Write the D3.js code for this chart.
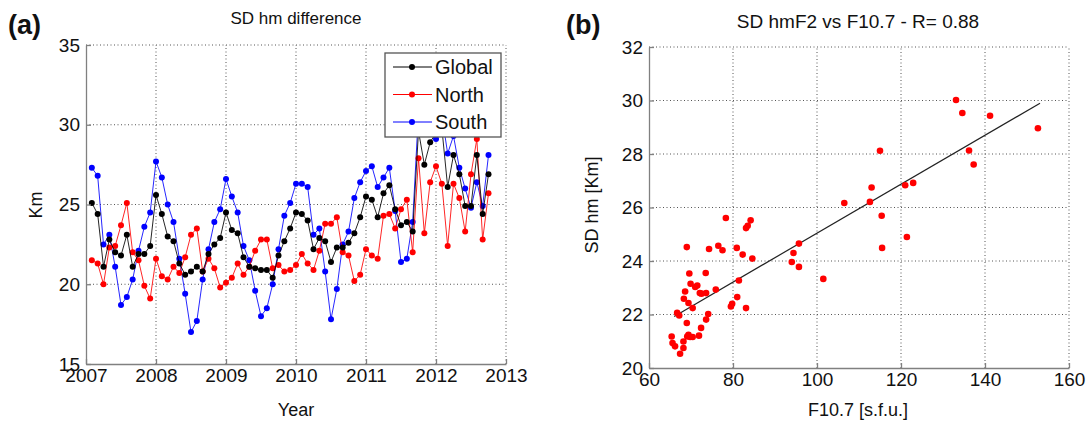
<!DOCTYPE html>
<html>
<head>
<meta charset="utf-8">
<script src="https://cdn.jsdelivr.net/npm/d3@7"></script>
<style>
  body { margin:0; background:#fff; }
  svg text { font-family: "Liberation Sans", Arial, sans-serif; fill:#111; }
  .tick text { font-size:19px; }
  .axis path, .axis line { stroke:#808080; stroke-width:1.3; }
  .grid line { stroke:#555; stroke-width:1; stroke-dasharray:1,2.5; }
</style>
</head>
<body>
<svg id="fig" width="1091" height="425"></svg>
<script>
// monthly values, Jan 2007 .. Sep 2012 (month index 1..69)
var months = d3.range(1, 70);
var globalSD = [25.1,24.4,21.1,22.8,22.0,21.8,23.1,21.1,21.9,21.9,22.4,25.6,
  24.4,23.0,22.7,21.3,20.6,20.8,21.1,20.8,21.9,22.5,22.9,24.5,
  23.4,23.2,21.7,21.1,21.0,20.9,20.9,20.4,21.8,22.7,23.5,24.5,
  24.4,24.0,22.2,22.9,22.7,21.4,22.3,22.3,22.6,23.2,24.2,25.5,
  25.3,24.2,25.7,26.2,24.7,23.7,23.9,23.3,29.6,27.5,28.9,29.5,
  29.8,26.1,28.1,26.9,24.9,24.9,28.1,24.4,26.9];
var northSD = [21.5,21.3,20.0,22.3,22.4,23.7,25.1,22.0,21.5,19.9,19.1,21.6,
  20.5,20.3,21.1,20.7,21.7,23.1,23.5,20.8,21.6,21.0,19.8,20.1,
  20.4,21.3,20.6,21.1,22.1,22.8,22.8,21.0,21.2,20.8,20.9,21.2,
  21.9,21.3,20.9,22.1,23.8,23.8,24.2,22.0,21.8,20.2,20.6,22.2,
  21.8,21.6,24.3,24.4,23.5,24.7,25.3,22.0,27.9,23.2,26.4,27.4,
  26.3,22.4,26.3,25.4,23.3,26.9,29.1,22.8,25.7];
var southSD = [27.3,26.8,22.5,23.1,21.1,18.7,19.2,20.3,22.1,23.6,24.5,27.7,
  26.7,25.0,23.9,21.6,19.4,17.0,17.7,20.3,22.2,23.9,24.7,26.6,
  25.5,24.5,22.4,21.5,19.6,18.0,18.5,20.0,22.2,24.3,25.1,26.3,
  26.3,26.1,23.1,23.5,20.8,17.8,19.7,22.5,23.3,25.4,26.4,27.1,
  27.4,26.1,26.7,27.3,24.6,21.4,21.6,23.9,30.8,31.5,30.2,29.1,
  30.6,28.2,29.3,27.3,26.0,24.8,26.4,24.9,28.1];
var seriesNames = ["Global","North","South"];
var seriesColors = ["#000000","#ff0000","#0000ff"];
var yearTicks = [2007,2008,2009,2010,2011,2012,2013];
var kmTicks = [15,20,25,30,35];

// scatter: F10.7 against SD hmF2
var f107 = [65.4,65.6,66.2,66.7,67.2,67.4,68.2,68.2,68.3,68.6,69.0,69.0,69.1,69.4,69.4,
  69.6,69.8,69.9,70.4,70.4,71.0,71.5,71.9,72.1,72.4,72.5,73.5,73.6,73.6,74.1,74.3,
  75.9,76.5,77.5,78.3,79.5,79.8,80.9,81.0,81.4,82.3,83.1,83.1,83.5,84.2,84.6,
  94.0,94.4,95.7,95.7,101.5,106.5,112.6,113.0,115.0,115.4,115.5,121.0,121.4,122.9,
  133.1,134.6,136.2,137.3,141.2,152.6];
var sdhm = [21.18,20.93,20.81,22.06,21.96,20.53,20.99,20.75,22.59,22.86,24.52,21.68,21.18,22.43,21.24,
  23.53,21.16,23.15,22.24,21.16,23.03,23.08,21.21,22.80,21.50,22.78,23.55,21.81,22.80,22.02,24.45,
  22.93,24.57,24.40,25.61,22.30,22.40,24.49,22.65,23.27,24.24,22.24,25.23,25.32,25.52,24.09,
  23.96,24.30,24.65,23.78,23.33,26.17,26.21,26.75,28.12,25.69,24.49,26.83,24.90,26.92,
  30.02,29.53,28.13,27.61,29.43,28.96];
var fitSlope = 0.0915, fitIntercept = 15.89;
var fluxTicks = [60,80,100,120,140,160];
var hmTicks = [20,22,24,26,28,30,32];

var svg = d3.select("#fig");

// draws dotted grid + gray inward-tick axes for one panel
function frame(g, x, y, xt, yt){
  var x0 = x.range()[0], x1 = x.range()[1], y0 = y.range()[0], y1 = y.range()[1];
  var grid = g.append("g").attr("class","grid");
  grid.selectAll(".v").data(xt.slice(1)).enter().append("line")
    .attr("x1",x).attr("x2",x).attr("y1",y0).attr("y2",y1);
  grid.selectAll(".h").data(yt.slice(1)).enter().append("line")
    .attr("x1",x0).attr("x2",x1).attr("y1",y).attr("y2",y);
}
function axes(g, x, y, xt, yt){
  g.append("g").attr("class","axis").attr("transform","translate(0,"+y.range()[0]+")")
    .call(d3.axisBottom(x).tickValues(xt).tickFormat(d3.format("d")).tickSize(-5).tickPadding(5).tickSizeOuter(0));
  g.append("g").attr("class","axis").attr("transform","translate("+x.range()[0]+",0)")
    .call(d3.axisLeft(y).tickValues(yt).tickFormat(d3.format("d")).tickSize(-5).tickPadding(6).tickSizeOuter(0));
}

// ---- panel (a)
var xa = d3.scaleLinear().domain([2007,2013]).range([86,506]);
var ya = d3.scaleLinear().domain([15,35]).range([364,45]);
var ga = svg.append("g");
frame(ga, xa, ya, yearTicks, kmTicks);

var t = function(m){ return 2007 + m/12; };
var line = d3.line().x(function(d){ return xa(t(d[0])); }).y(function(d){ return ya(d[1]); });
var all = [globalSD, northSD, southSD];
// draw south first so global stays on top like the original
[2,1,0].forEach(function(i){
  var pts = months.map(function(m,j){ return [m, all[i][j]]; });
  ga.append("path").attr("d",line(pts)).attr("fill","none")
    .attr("stroke",seriesColors[i]).attr("stroke-width",1).attr("opacity",0.85);
  ga.selectAll(".d"+i).data(pts).enter().append("circle")
    .attr("cx",function(d){ return xa(t(d[0])); })
    .attr("cy",function(d){ return ya(d[1]); })
    .attr("r",3).attr("fill",seriesColors[i]);
});
axes(ga, xa, ya, yearTicks, kmTicks);

// legend
var lg = ga.append("g");
lg.append("rect").attr("x",385).attr("y",53).attr("width",116).attr("height",84)
  .attr("fill","#fff").attr("stroke","#555").attr("stroke-width",1.3);
seriesNames.forEach(function(n,i){
  var yy = 67 + i*27.5;
  lg.append("line").attr("x1",393).attr("x2",432).attr("y1",yy).attr("y2",yy)
    .attr("stroke",seriesColors[i]).attr("stroke-width",1);
  lg.append("circle").attr("cx",412).attr("cy",yy).attr("r",3).attr("fill",seriesColors[i]);
  lg.append("text").attr("x",435).attr("y",yy+7).attr("font-size","20px").text(n);
});

ga.append("text").attr("x",296).attr("y",24).attr("text-anchor","middle").attr("font-size","17px").text("SD hm difference");
ga.append("text").attr("x",296).attr("y",416).attr("text-anchor","middle").attr("font-size","18px").text("Year");
ga.append("text").attr("transform","translate(42,205) rotate(-90)").attr("text-anchor","middle").attr("font-size","18px").text("Km");
ga.append("text").attr("x",8).attr("y",34).attr("font-size","27px").attr("font-weight","bold").text("(a)");

// ---- panel (b)
var xb = d3.scaleLinear().domain([60,160]).range([649,1069]);
var yb = d3.scaleLinear().domain([20,32]).range([368,47]);
var gb = svg.append("g");
frame(gb, xb, yb, fluxTicks, hmTicks);

var fx = d3.extent(f107);
gb.append("line")
  .attr("x1",xb(fx[0]+0.6)).attr("y1",yb(fitSlope*(fx[0]+0.6)+fitIntercept))
  .attr("x2",xb(fx[1]+0.5)).attr("y2",yb(fitSlope*(fx[1]+0.5)+fitIntercept))
  .attr("stroke","#222").attr("stroke-width",1.2);
gb.selectAll(".s").data(f107).enter().append("circle")
  .attr("cx",function(d){ return xb(d); })
  .attr("cy",function(d,i){ return yb(sdhm[i]); })
  .attr("r",3.3).attr("fill","#ff0000");
axes(gb, xb, yb, fluxTicks, hmTicks);

gb.append("text").attr("x",858).attr("y",28).attr("text-anchor","middle").attr("font-size","19px").text("SD hmF2 vs F10.7 - R= 0.88");
gb.append("text").attr("x",858).attr("y",416).attr("text-anchor","middle").attr("font-size","18px").text("F10.7 [s.f.u.]");
gb.append("text").attr("transform","translate(598,205) rotate(-90)").attr("text-anchor","middle").attr("font-size","18px").text("SD hm [Km]");
gb.append("text").attr("x",566).attr("y",34).attr("font-size","27px").attr("font-weight","bold").text("(b)");
</script>
</body>
</html>
